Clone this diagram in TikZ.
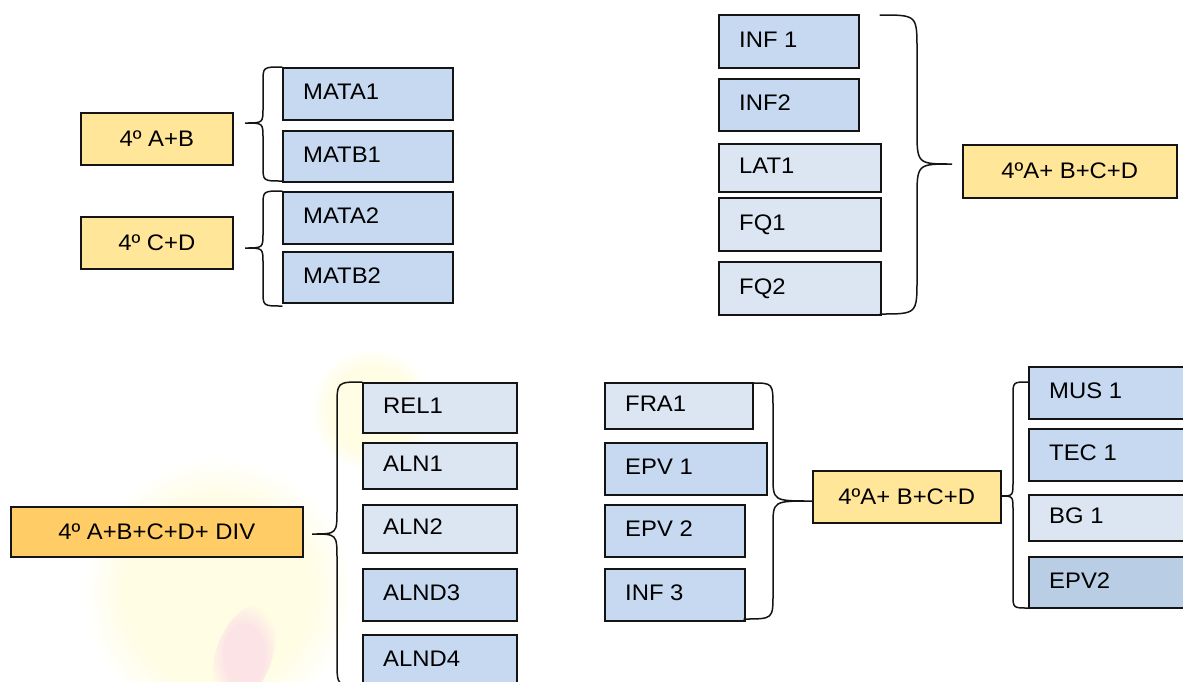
\documentclass[tikz,border=0pt]{standalone}
\usepackage{fontspec}
\setmainfont{Liberation Sans}[FakeStretch=1.06]
\definecolor{cyel}{HTML}{FFE699}
\definecolor{corg}{HTML}{FFCC66}
\definecolor{cblu}{HTML}{C6D9F1}
\definecolor{clgt}{HTML}{DCE6F2}
\definecolor{cdrk}{HTML}{B9CDE5}
\definecolor{glowy}{HTML}{FFFDE3}
\definecolor{glowp}{HTML}{FCE3E6}
\pgfdeclareradialshading{glowyel}{\pgfpoint{0bp}{0bp}}{color(0bp)=(glowy); color(17bp)=(glowy); color(25bp)=(white); color(50bp)=(white)}
\pgfdeclareradialshading{glowpink}{\pgfpoint{0bp}{0bp}}{color(0bp)=(glowp); color(14bp)=(glowp); color(25bp)=(glowy); color(50bp)=(glowy)}
\tikzset{
  boxshape/.style={draw=black!92, line width=1.6pt, inner sep=0pt, anchor=north west},
  labtext/.style={inner sep=0pt, font=\fontsize{22.5}{26}\selectfont},
  bracestyle/.style={draw=black!92, line width=1.5pt, line cap=round}
}
\usetikzlibrary{calc}
% left-aligned box: name, x, y, w, h, fill, text
\newcommand{\lbx}[7]{%
  \node[boxshape, fill=#6, minimum width=#4pt, minimum height=#5pt] (#1) at (#2,#3) {};
  \node[labtext, anchor=base west] (#1-t) at ($(#1.west)+(21,6)$) {#7};}
% centered box
\newcommand{\cbx}[7]{%
  \node[boxshape, fill=#6, minimum width=#4pt, minimum height=#5pt] (#1) at (#2,#3) {};
  \node[labtext, anchor=base] (#1-t) at ($(#1.center)+(0,7.5)$) {#7};}
% brace: top x, top y, bottom x, bottom y, vertical x, tip x, tip y, radius
\newcommand{\brc}[8]{%
  \draw[bracestyle] (#1,#2) .. controls (#5,#2) .. (#5,#2+#8) -- (#5,#7-#8)
    .. controls (#5,#7) .. (#6,#7) .. controls (#5,#7) .. (#5,#7+#8)
    -- (#5,#4-#8) .. controls (#5,#4) .. (#3,#4);}
\begin{document}
\begin{tikzpicture}[x=1pt, y=-1pt]
\useasboundingbox (0,0) rectangle (1183,681);
\clip (0,0) rectangle (1183,681);
\fill[white] (0,0) rectangle (1183,681);
% faint watermark
\shade[shading=glowyel] (218,592) circle (135);
\shade[shading=glowyel] (372,410) circle (62);
\shade[shading=glowpink, rotate around={-20:(244,655)}] (244,655) ellipse (28 and 52);
% top-left
\cbx{ab}{80}{112}{152}{52}{cyel}{4º A+B}
\cbx{cd}{80}{216}{152}{52}{cyel}{4º C+D}
\lbx{mata1}{282}{67}{170}{52}{cblu}{MATA1}
\lbx{matb1}{282}{130}{170}{51}{cblu}{MATB1}
\lbx{mata2}{282}{191}{170}{52}{cblu}{MATA2}
\lbx{matb2}{282}{251}{170}{51}{cblu}{MATB2}
\brc{282}{67}{282}{181}{263}{245}{123}{15}
\brc{282}{191}{282}{306}{263}{245}{248}{15}
% top-right
\lbx{inf1}{718}{14}{140}{53}{cblu}{INF 1}
\lbx{inf2}{718}{78}{140}{52}{cblu}{INF2}
\lbx{lat1}{718}{143}{162}{48}{clgt}{LAT1}
\lbx{fq1}{718}{197}{162}{53}{clgt}{FQ1}
\lbx{fq2}{718}{261}{162}{53}{clgt}{FQ2}
\cbx{abcd1}{962}{144}{214}{53}{cyel}{4ºA+ B+C+D}
\brc{880}{15}{880}{314}{917}{952}{164}{35}
% bottom-left
\cbx{div}{10}{506}{292}{50}{corg}{4º A+B+C+D+ DIV}
\lbx{rel1}{362}{382}{154}{50}{clgt}{REL1}
\lbx{aln1}{362}{442}{154}{46}{clgt}{ALN1}
\lbx{aln2}{362}{504}{154}{48}{clgt}{ALN2}
\lbx{alnd3}{362}{568}{154}{52}{cblu}{ALND3}
\node[boxshape, fill=cblu, minimum width=154pt, minimum height=60pt] (alnd4) at (362,634) {};
\node[labtext, anchor=base west] (alnd4-t) at ($(alnd4.north west)+(21,32)$) {ALND4};
\brc{362}{382}{362}{686}{337}{312}{534}{25}
% bottom-middle
\lbx{fra1}{604}{382}{148}{46}{clgt}{FRA1}
\lbx{epv1}{604}{442}{162}{52}{cblu}{EPV 1}
\lbx{epv2a}{604}{504}{140}{52}{cblu}{EPV 2}
\lbx{inf3}{604}{568}{140}{52}{cblu}{INF 3}
\cbx{abcd2}{812}{470}{188}{52}{cyel}{4ºA+ B+C+D}
\brc{752}{383}{744}{619}{773}{812}{501}{25}
% right
\lbx{mus1}{1028}{366}{170}{52}{cblu}{MUS 1}
\lbx{tec1}{1028}{428}{170}{52}{cblu}{TEC 1}
\lbx{bg1}{1028}{494}{170}{46}{clgt}{BG 1}
\lbx{epv2b}{1028}{556}{170}{51}{cdrk}{EPV2}
\brc{1028}{382}{1028}{608}{1013}{1000}{496}{14}
\end{tikzpicture}
\end{document}
